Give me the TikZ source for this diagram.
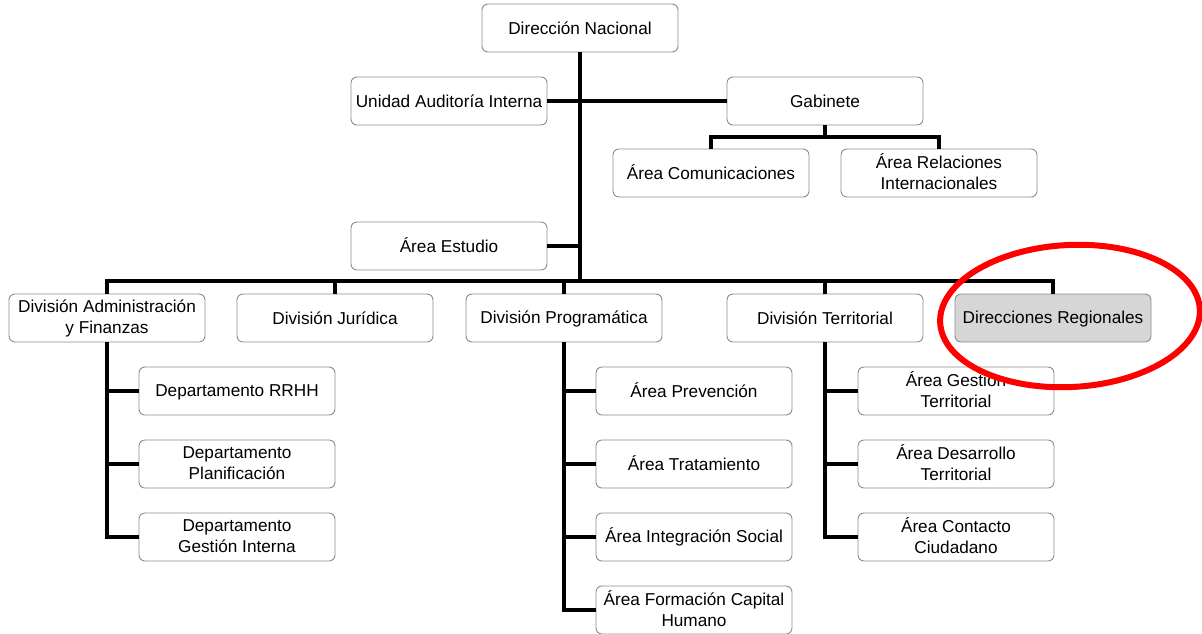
\documentclass[tikz,border=0pt]{standalone}
\usepackage{fontspec}
\setmainfont{Liberation Sans}
\begin{document}
\begin{tikzpicture}[x=1pt,y=-1pt,
  box/.style={draw=black!45, line width=0.9pt, rounded corners=6pt, fill=white,
    minimum width=196pt, minimum height=48pt, align=center, inner sep=1pt,
    font=\fontsize{17.2}{21}\selectfont,
    execute at begin node={\rule{0pt}{15pt}}, execute at end node={\rule[-2.6pt]{0pt}{2.6pt}}},
  graybox/.style={box, fill=black!16},
  conn/.style={line width=4.5pt, draw=black, line join=miter}]
\useasboundingbox (0,0) rectangle (1202,633);
% top
\node[box] (dn) at (580,28) {Dirección Nacional};
\node[box] (aud) at (449,101) {Unidad Auditoría Interna};
\node[box] (gab) at (825,101) {Gabinete};
\node[box] (com) at (711,173) {Área Comunicaciones};
\node[box] (rel) at (939,173) {Área Relaciones\\Internacionales};
\node[box] (est) at (449,246) {Área Estudio};
% divisions
\node[box] (adm) at (107,318) {División Administración\\y Finanzas};
\node[box] (jur) at (335,318) {División Jurídica};
\node[box] (pro) at (564,318) {División Programática};
\node[box] (ter) at (825,318) {División Territorial};
\node[graybox] (reg) at (1053,318) {Direcciones Regionales};
% admin subs
\node[box] (d1) at (237,391) {Departamento RRHH};
\node[box] (d2) at (237,464) {Departamento\\Planificación};
\node[box] (d3) at (237,537) {Departamento\\Gestión Interna};
% programatica subs
\node[box] (p1) at (694,391) {Área Prevención};
\node[box] (p2) at (694,464) {Área Tratamiento};
\node[box] (p3) at (694,537) {Área Integración Social};
\node[box] (p4) at (694,610) {Área Formación Capital\\Humano};
% territorial subs
\node[box] (t1) at (956,391) {Área Gestión\\Territorial};
\node[box] (t2) at (956,464) {Área Desarrollo\\Territorial};
\node[box] (t3) at (956,537) {Área Contacto\\Ciudadano};
% coordinates
\coordinate (bus) at (580,281);
\coordinate (gbus) at (825,137);
% connectors
\draw[conn] (dn.south) -- (dn |- bus);
\draw[conn] (aud.east) -- (gab.west);
\draw[conn] (est.east) -- (est.east -| dn);
\draw[conn] (gab.south) -- (gab |- gbus);
\draw[conn] (com.north) -- (com |- gbus) -- (rel |- gbus) -- (rel.north);
\draw[conn] (adm.north) -- (adm |- bus) -- (reg |- bus) -- (reg.north);
\draw[conn] (jur.north) -- (jur |- bus);
\draw[conn] (pro.north) -- (pro |- bus);
\draw[conn] (ter.north) -- (ter |- bus);
\draw[conn] (adm.south) -- (adm |- d3) -- (d3.west);
\draw[conn] (adm |- d1) -- (d1.west);
\draw[conn] (adm |- d2) -- (d2.west);
\draw[conn] (pro.south) -- (pro |- p4) -- (p4.west);
\draw[conn] (pro |- p1) -- (p1.west);
\draw[conn] (pro |- p2) -- (p2.west);
\draw[conn] (pro |- p3) -- (p3.west);
\draw[conn] (ter.south) -- (ter |- t3) -- (t3.west);
\draw[conn] (ter |- t1) -- (t1.west);
\draw[conn] (ter |- t2) -- (t2.west);
% highlight
\coordinate (hl) at (1070,316);
\draw[red, line width=6pt, rotate around={3:(hl)}] (hl) ellipse [x radius=130pt, y radius=71pt];
\end{tikzpicture}
\end{document}
